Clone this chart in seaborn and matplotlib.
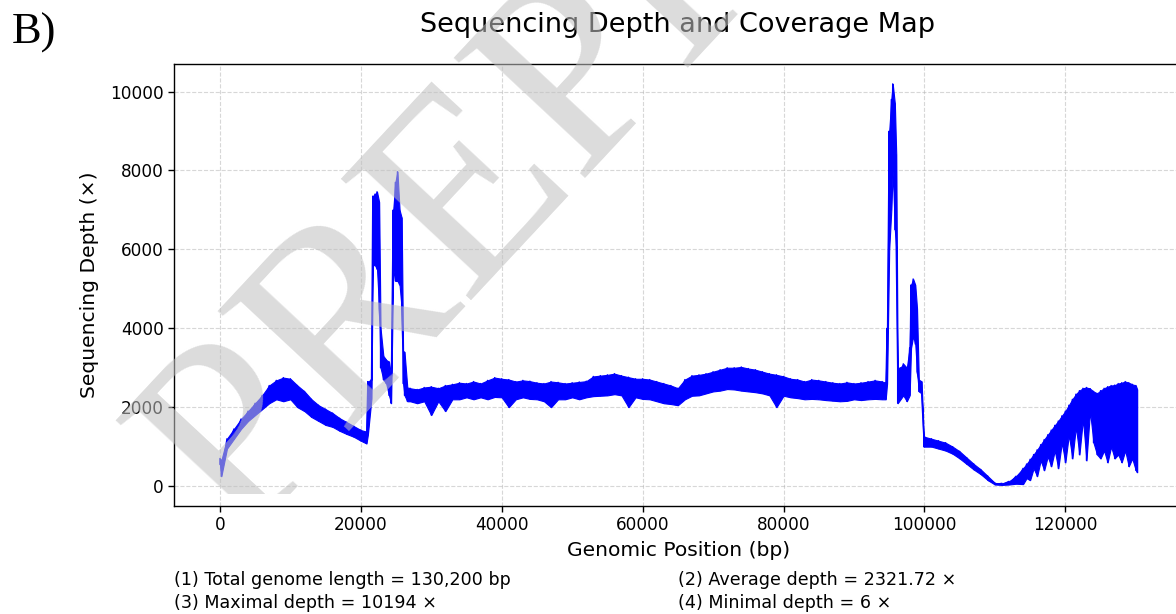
import numpy as np
import pandas as pd
import seaborn as sns
import matplotlib.pyplot as plt
from matplotlib.transforms import Bbox, TransformedBbox

# positions (kb) with upper / lower edge of the depth trace
pos_kb = [0, 0.2, 1, 2, 3, 4, 5, 6, 7, 8, 9, 10, 11, 12, 13, 14, 15, 16, 17, 18, 19, 20, 20.8,
          21.0, 21.5, 21.7, 22.0, 22.3, 22.6, 22.8, 23.2, 23.6, 24.0, 24.3, 24.6, 24.9, 25.2, 25.5, 25.8, 26.0, 26.2, 26.6,
          27, 28, 29, 30, 31, 32, 33, 34, 35, 36, 37, 38, 39, 40, 41, 42, 43, 44, 45, 46, 47, 48, 49, 50,
          51, 52, 53, 54, 55, 56, 57, 58, 59, 60, 61, 62, 63, 64, 65, 66, 67, 68, 69, 70,
          71, 72, 73, 74, 75, 76, 77, 78, 79, 80, 81, 82, 83, 84, 85, 86, 87, 88, 89, 90,
          91, 92, 93, 94, 94.5,
          94.7, 95.0, 95.3, 95.5, 95.8, 96.0, 96.2, 96.6, 97.0, 97.5, 97.9, 98.1, 98.4, 98.7, 98.95, 99.2, 99.6, 99.9,
          100, 101, 102, 103, 104, 105, 106, 107, 108, 109, 110, 111, 112, 113,
          114, 114.5, 115, 115.5, 116, 116.5, 117, 117.5, 118, 118.5, 119, 119.5, 120, 120.5, 121, 121.5,
          122, 122.5, 123, 123.5, 124, 124.5, 125, 125.5, 126, 126.5, 127, 127.5, 128, 128.5, 129, 129.5, 130, 130.2]

depth_hi = [700, 650, 1200, 1450, 1700, 1900, 2100, 2300, 2550, 2680, 2750, 2720, 2550, 2400, 2200, 2050, 1950, 1850, 1720, 1620, 1520, 1420, 1380,
            2650, 2700, 7350, 7400, 7460, 7200, 4000, 3300, 3200, 3150, 2800, 7000, 7700, 7970, 7000, 6800, 3400, 3400, 2500,
            2480, 2450, 2500, 2520, 2480, 2550, 2580, 2620, 2600, 2650, 2600, 2680, 2750, 2720, 2700, 2650, 2680, 2660, 2620, 2600, 2650, 2630, 2600, 2620,
            2640, 2660, 2780, 2800, 2820, 2850, 2800, 2760, 2720, 2720, 2700, 2650, 2600, 2550, 2480, 2700, 2800, 2820, 2850, 2900,
            2950, 3000, 3000, 3020, 2980, 2950, 2900, 2850, 2820, 2780, 2720, 2700, 2650, 2700, 2680, 2650, 2620, 2600, 2630, 2600,
            2620, 2650, 2680, 2650, 2620,
            4000, 9000, 9800, 10194, 9700, 8400, 3000, 3000, 3100, 3000, 3500, 5100, 5250, 5100, 4500, 2700, 2650, 1300,
            1250, 1200, 1150, 1100, 1000, 880, 720, 560, 420, 250, 80, 70, 120, 250,
            450, 560, 680, 800, 920, 1050, 1180, 1300, 1420, 1540, 1650, 1780, 1900, 2050, 2200, 2330,
            2420, 2480, 2500, 2470, 2400, 2350, 2420, 2480, 2520, 2550, 2560, 2600, 2620, 2650, 2620, 2580, 2550, 2450]

depth_lo = [550, 250, 950, 1200, 1450, 1650, 1800, 1950, 2100, 2200, 2150, 2200, 2000, 1900, 1750, 1650, 1550, 1500, 1400, 1320, 1250, 1150, 1080,
            1300, 2200, 5600, 5600, 5500, 4500, 3000, 2700, 2600, 2300, 2100, 5500, 5200, 5200, 5100, 4500, 2600, 2300, 2150,
            2150, 2100, 2150, 1800, 2150, 1900, 2200, 2200, 2250, 2200, 2250, 2200, 2260, 2250, 2000, 2200, 2250, 2210, 2200, 2150, 2000, 2200, 2200, 2250,
            2200, 2250, 2280, 2290, 2300, 2330, 2300, 2000, 2250, 2210, 2200, 2150, 2100, 2080, 2050, 2200, 2290, 2300, 2350, 2400,
            2420, 2460, 2450, 2420, 2400, 2380, 2350, 2300, 2000, 2290, 2250, 2230, 2200, 2210, 2200, 2180, 2165, 2150, 2160, 2200,
            2180, 2200, 2210, 2200, 2200,
            2600, 6000, 7000, 8000, 6500, 6000, 2100, 2200, 2300, 2150, 2300, 3500, 3800, 3600, 2900, 2400, 2350, 1000,
            1000, 1000, 950, 900, 820, 700, 560, 420, 300, 150, 40, 30, 40, 60,
            50, 200, 150, 450, 250, 650, 400, 750, 500, 900, 450, 1100, 600, 1300, 700, 1500,
            800, 1700, 650, 1900, 1100, 800, 700, 900, 600, 1000, 700, 800, 600, 900, 500, 700, 400, 350]

tick_x = [0, 20000, 40000, 60000, 80000, 100000, 120000]
tick_y = [0, 2000, 4000, 6000, 8000, 10000]
notes = ["(1) Total genome length = 130,200 bp", "(2) Average depth = 2321.72 ×",
         "(3) Maximal depth = 10194 ×", "(4) Minimal depth = 6 ×"]

pos_bp = np.array(pos_kb) * 1000
hi = np.array(depth_hi)
lo = np.array(depth_lo)

# zig-zag trace: upper then lower value at each position
df = pd.DataFrame({
    'pos': np.repeat(pos_bp, 2),
    'depth': np.column_stack([hi, lo]).ravel(),
})

sns.set_style('ticks')
plt.rcParams['font.family'] = ['DejaVu Sans']
plt.rcParams.update({'text.color': 'black', 'axes.labelcolor': 'black',
                     'xtick.color': 'black', 'ytick.color': 'black'})

fig = plt.figure(figsize=(11.76, 6.14), dpi=100)
ax = fig.add_axes([0.148, 0.176, 0.858, 0.720])

ax.fill_between(pos_bp, lo, hi, color='blue', linewidth=0.8)
sns.lineplot(data=df, x='pos', y='depth', sort=False, estimator=None,
             color='blue', linewidth=1.0, ax=ax)

ax.set_xlim(-6510, 136710)
ax.set_ylim(-503, 10703)
ax.set_xticks(tick_x)
ax.set_yticks(tick_y)
ax.tick_params(labelsize=12.2, length=4, width=1, color='black', labelcolor='black')
for s in ax.spines.values():
    s.set_color('black')
    s.set_linewidth(1.0)
ax.grid(True, linestyle='--', linewidth=0.8, color='#b0b0b0', alpha=0.5)

ax.set_xlabel('Genomic Position (bp)', fontsize=14.6, labelpad=5)
ax.set_ylabel('Sequencing Depth (×)', fontsize=14.6, labelpad=8)

fig.text(678 / 1176, 1 - 25 / 614, 'Sequencing Depth and Coverage Map',
         ha='center', va='center', fontsize=19.5)
fig.text(12 / 1176, 1 - 33 / 614, 'B)', ha='left', va='center',
         fontsize=32, family='Liberation Serif')

fig.text(174 / 1176, 1 - 580 / 614, notes[0], ha='left', va='center', fontsize=12.6)
fig.text(678 / 1176, 1 - 580 / 614, notes[1], ha='left', va='center', fontsize=12.6)
fig.text(174 / 1176, 1 - 603 / 614, notes[2], ha='left', va='center', fontsize=12.6)
fig.text(678 / 1176, 1 - 603 / 614, notes[3], ha='left', va='center', fontsize=12.6)

# watermark, cut off just above the x tick labels
wm = fig.text(238 / 1176, 1 - 542 / 614, 'PREPRINT', rotation=47, rotation_mode='anchor',
              ha='left', va='baseline', fontsize=195, family='Liberation Serif',
              color='#c1c1c1', alpha=0.57, zorder=10)
wm.set_clip_box(TransformedBbox(Bbox([[0, 1 - 494 / 614], [1, 1]]), fig.transFigure))
wm.set_clip_on(True)

fig.savefig('out.png', dpi=100)
